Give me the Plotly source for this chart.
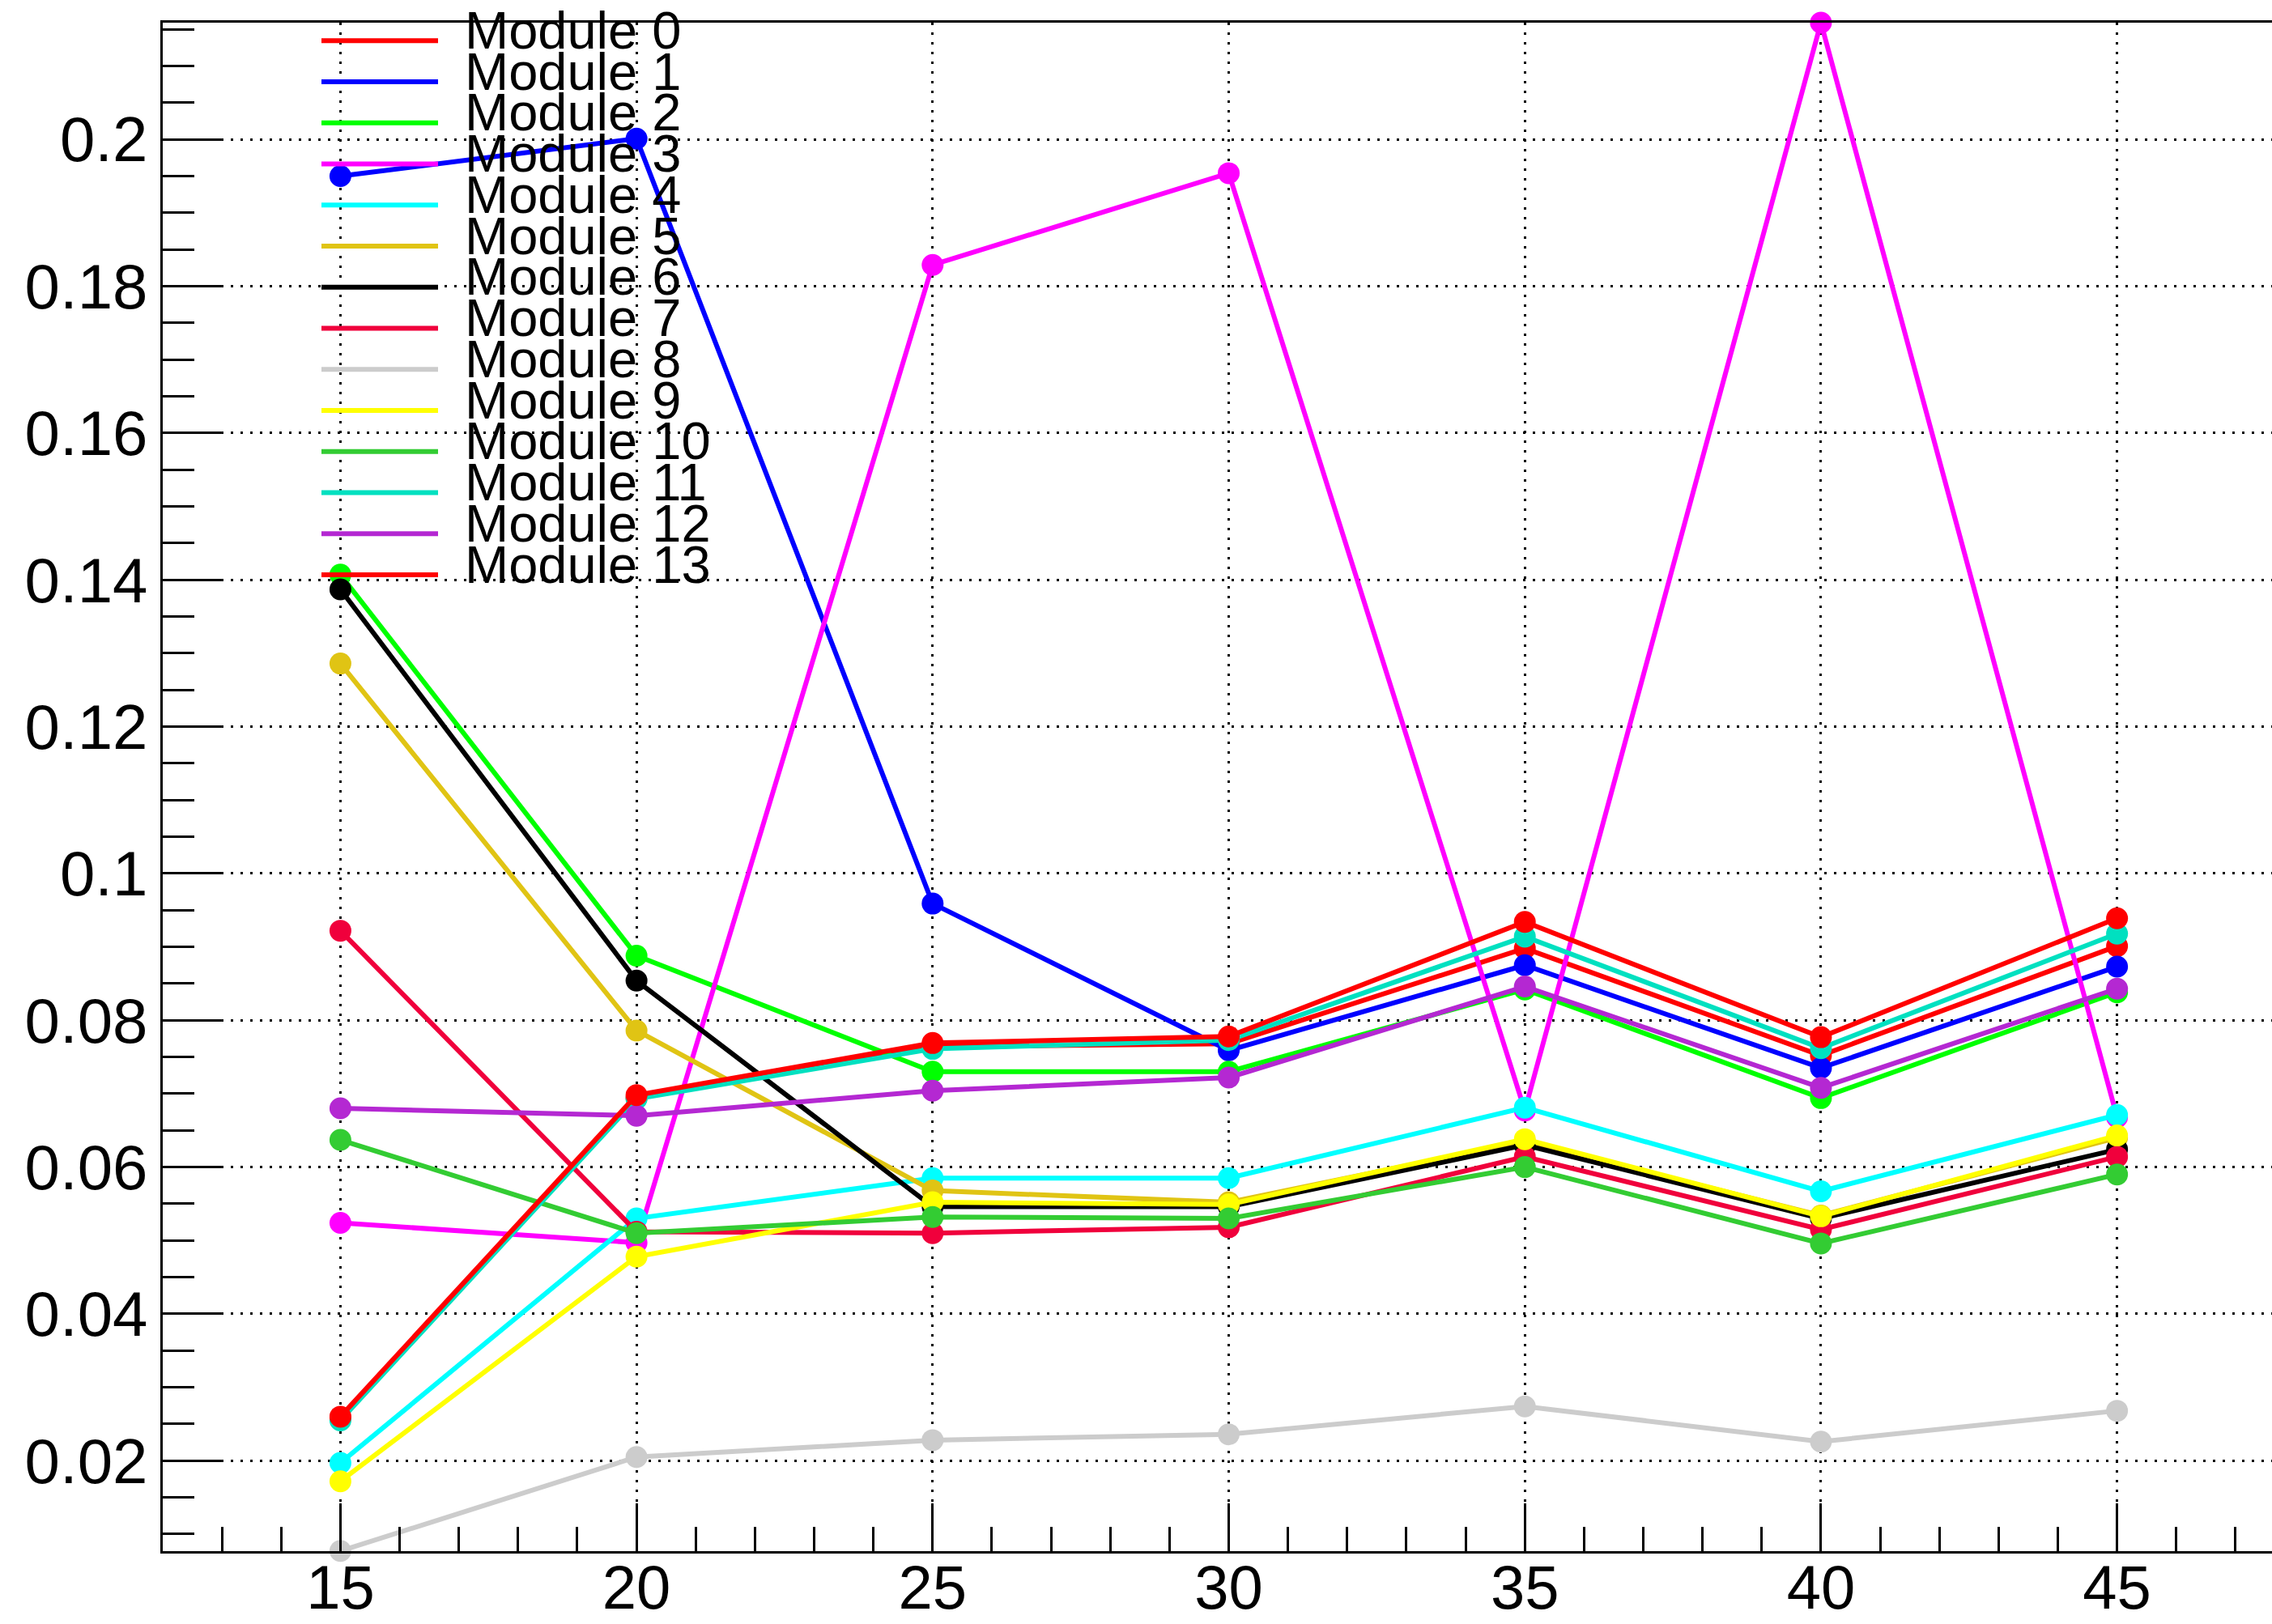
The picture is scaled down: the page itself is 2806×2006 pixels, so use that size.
import plotly.graph_objects as go

# Scan points (x) shared by every module
X = [15, 20, 25, 30, 35, 40, 45]

MODULE_NAMES = [f"Module {i}" for i in range(14)]

m0 = [0.0258, 0.0694, 0.0764, 0.0768, 0.0898, 0.0752, 0.0901]
m1 = [0.1950, 0.2001, 0.0959, 0.0759, 0.0875, 0.0735, 0.0873]
m2 = [0.1407, 0.0888, 0.0730, 0.0730, 0.0842, 0.0694, 0.0838]
m3 = [0.0524, 0.0497, 0.1829, 0.1954, 0.0677, 0.2159, 0.0668]
m4 = [0.0197, 0.0530, 0.0585, 0.0585, 0.0681, 0.0567, 0.0671]
m5 = [0.1286, 0.0786, 0.0568, 0.0552, 0.0635, 0.0534, 0.0640]
m6 = [0.1387, 0.0854, 0.0546, 0.0546, 0.0630, 0.0530, 0.0624]
m7 = [0.0922, 0.0512, 0.0510, 0.0518, 0.0614, 0.0515, 0.0614]
m8 = [0.0077, 0.0205, 0.0228, 0.0236, 0.0274, 0.0226, 0.0268]
m9 = [0.0172, 0.0478, 0.0552, 0.0549, 0.0638, 0.0533, 0.0643]
m10 = [0.0637, 0.0510, 0.0532, 0.0530, 0.0600, 0.0496, 0.0590]
m11 = [0.0255, 0.0693, 0.0761, 0.0773, 0.0914, 0.0762, 0.0918]
m12 = [0.0680, 0.0670, 0.0704, 0.0722, 0.0846, 0.0708, 0.0843]
m13 = [0.0260, 0.0698, 0.0769, 0.0778, 0.0934, 0.0777, 0.0939]

SERIES = [m0, m1, m2, m3, m4, m5, m6, m7, m8, m9, m10, m11, m12, m13]

COLORS = [
    "#ff0000", "#0000ff", "#00ff00", "#ff00ff", "#00ffff", "#e0c414",
    "#000000", "#f0003c", "#cccccc", "#ffff00", "#33cc33", "#00e0c0",
    "#b428d2", "#ff0000",
]

X_TICKS = [15, 20, 25, 30, 35, 40, 45]
X_TICK_LABELS = ["15", "20", "25", "30", "35", "40", "45"]
Y_TICKS = [0.02, 0.04, 0.06, 0.08, 0.10, 0.12, 0.14, 0.16, 0.18, 0.20]
Y_TICK_LABELS = ["0.02", "0.04", "0.06", "0.08", "0.1", "0.12", "0.14", "0.16", "0.18", "0.2"]

# Canvas and frame geometry (pixels)
W, H = 2806, 2006
L, R, T, B = 201, 0, 28, 90
X_RANGE = [12, 12 + (W - L - R) / 73.14]
Y_RANGE = [0.00768, 0.2159]

FONT = "Liberation Sans, Arial, Helvetica, sans-serif"

fig = go.Figure()
for name, ys, col in zip(MODULE_NAMES, SERIES, COLORS):
    fig.add_trace(go.Scatter(
        x=X, y=ys, name=name, mode="lines+markers",
        line=dict(color=col, width=6),
        marker=dict(color=col, size=27, symbol="circle"),
        cliponaxis=False, showlegend=False,
    ))

# Legend drawn as line samples plus labels, top-left inside the frame
def px_to_paper_x(px):
    return (px - L) / (W - L - R)

def px_to_paper_y(py):
    return (H - B - py) / (H - T - B)

LEG_X0, LEG_X1, LEG_TEXT_X = 397, 541, 572
LEG_Y0, LEG_DY = 50.3, 50.75

shapes = []
annotations = []
for i, (name, col) in enumerate(zip(MODULE_NAMES, COLORS)):
    ly = LEG_Y0 + i * LEG_DY
    shapes.append(dict(
        type="line", xref="paper", yref="paper",
        x0=px_to_paper_x(LEG_X0), x1=px_to_paper_x(LEG_X1),
        y0=px_to_paper_y(ly), y1=px_to_paper_y(ly),
        line=dict(color=col, width=6),
    ))
    annotations.append(dict(
        xref="paper", yref="paper",
        x=px_to_paper_x(LEG_TEXT_X), y=px_to_paper_y(ly - 13),
        xanchor="left", yanchor="middle", showarrow=False,
        text=name, font=dict(family=FONT, size=65, color="black"),
    ))

fig.update_layout(
    width=W, height=H,
    margin=dict(l=L, r=R, t=T, b=B, pad=0, autoexpand=False),
    paper_bgcolor="white", plot_bgcolor="white",
    showlegend=False,
    shapes=shapes, annotations=annotations,
    xaxis=dict(
        range=X_RANGE, tickmode="array", tickvals=X_TICKS, ticktext=X_TICK_LABELS,
        ticks="inside", ticklen=59, tickwidth=3, tickcolor="black",
        minor=dict(ticks="inside", ticklen=30, tickwidth=3, tickcolor="black",
                   dtick=1, tick0=12, showgrid=False),
        showline=True, linewidth=3, linecolor="black", mirror=True,
        showgrid=True, gridcolor="black", gridwidth=3, griddash="3px,9px",
        zeroline=False, automargin=False, ticklabelstandoff=-23,
        tickfont=dict(family=FONT, size=76, color="black"),
    ),
    yaxis=dict(
        range=Y_RANGE, tickmode="array", tickvals=Y_TICKS, ticktext=Y_TICK_LABELS,
        ticks="inside", ticklen=75, tickwidth=3, tickcolor="black",
        minor=dict(ticks="inside", ticklen=39, tickwidth=3, tickcolor="black",
                   dtick=0.005, tick0=0, showgrid=False),
        showline=True, linewidth=3, linecolor="black",
        showgrid=True, gridcolor="black", gridwidth=3, griddash="3px,9px",
        zeroline=False, automargin=False,
        tickfont=dict(family=FONT, size=78, color="black"),
    ),
)

fig.write_html("out.html")
